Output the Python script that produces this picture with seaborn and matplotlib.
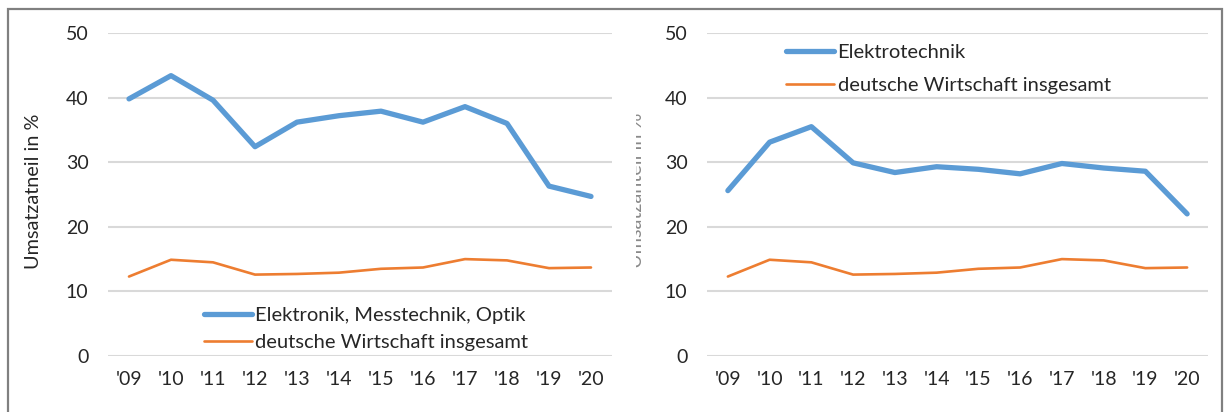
import matplotlib
matplotlib.use("Agg")
import matplotlib.pyplot as plt
import matplotlib.patches as patches
from matplotlib.transforms import Bbox, TransformedBbox
import pandas as pd
import seaborn as sns

# Daten
jahre = ["'09", "'10", "'11", "'12", "'13", "'14", "'15", "'16", "'17", "'18", "'19", "'20"]
elektronik = [39.8, 43.4, 39.6, 32.4, 36.2, 37.2, 37.9, 36.2, 38.6, 36.0, 26.3, 24.7]
elektrotechnik = [25.6, 33.1, 35.5, 29.9, 28.4, 29.3, 28.9, 28.2, 29.8, 29.1, 28.6, 22.0]
wirtschaft = [12.3, 14.9, 14.5, 12.6, 12.7, 12.9, 13.5, 13.7, 15.0, 14.8, 13.6, 13.7]
yticks = [0, 10, 20, 30, 40, 50]

BLAU = "#5B9BD5"
ORANGE = "#ED7D31"
TXT = "#262626"

sns.set_style("white")
plt.rcParams["font.family"] = ["Lato", "DejaVu Sans"]

W, H = 1227, 412
fig = plt.figure(figsize=(W / 100, H / 100), dpi=100)

def panel(x0, x1, branche, werte, leg_pos, leg_space):
    ax = fig.add_axes([x0 / W, (H - 356) / H, (x1 - x0) / W, 323 / H])
    df = pd.DataFrame({"Jahr": jahre, "Wert": werte})
    df2 = pd.DataFrame({"Jahr": jahre, "Wert": wirtschaft})
    sns.lineplot(data=df, x="Jahr", y="Wert", ax=ax, color=BLAU, lw=3.8,
                 label=branche, sort=False)
    sns.lineplot(data=df2, x="Jahr", y="Wert", ax=ax, color=ORANGE, lw=1.9,
                 label="deutsche Wirtschaft insgesamt", sort=False)
    ax.set_xlim(-0.5, 11.5)
    ax.set_ylim(0, 50)
    ax.set_yticks(yticks)
    ax.yaxis.grid(True, color="#D9D9D9", lw=1.5)
    ax.set_axisbelow(True)
    for s in ax.spines.values():
        s.set_visible(False)
    ax.tick_params(axis="y", length=0, pad=14, labelsize=14, labelcolor=TXT)
    ax.tick_params(axis="x", length=0, pad=11, labelsize=14, labelcolor=TXT)
    ax.set_xlabel("")
    ax.set_ylabel("")
    ax.legend(loc="center left", bbox_to_anchor=leg_pos, frameon=False,
              fontsize=14.5, handlelength=2.4, handletextpad=0.15,
              borderaxespad=0, borderpad=0, labelspacing=leg_space,
              labelcolor=TXT)
    return ax

ax1 = panel(108, 612, "Elektronik, Messtechnik, Optik", elektronik, (0.19, 0.084), 0.5)
ax2 = panel(707, 1208, "Elektrotechnik", elektrotechnik, (0.158, 0.889), 0.8)

fig.text(34 / W, (H - 191) / H, "Umsatzatneil in %", rotation=90,
         ha="center", va="center", fontsize=14.3, color=TXT)
# Achsentitel rechts: grossteils vom linken Bild verdeckt
t = fig.text(637 / W, (H - 190) / H, "Umsatzanteil in %", rotation=90,
             ha="center", va="center", fontsize=14.3, color="#8a8a8a")
t.set_clip_box(TransformedBbox(Bbox([[636 / W, 0], [700 / W, 1]]), fig.transFigure))
t.set_clip_on(True)

rahmen = patches.Rectangle((8 / W, -0.05), 1214 / W, (H - 9) / H + 0.05,
                           transform=fig.transFigure, fill=False,
                           edgecolor="#808080", lw=1.6, clip_on=False)
fig.patches.append(rahmen)

fig.savefig("out.png", dpi=100)
